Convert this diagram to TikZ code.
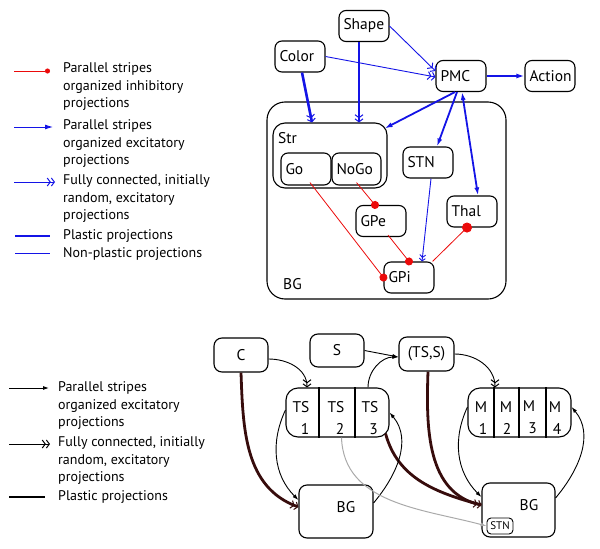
\documentclass[tikz,border=0pt]{standalone}
\usepackage{fontspec}
\setmainfont{PT Sans}
\usetikzlibrary{arrows.meta}
\definecolor{myblue}{RGB}{20,20,230}
\definecolor{myred}{RGB}{235,10,10}
\definecolor{mybrown}{RGB}{55,12,12}
\definecolor{mygray}{RGB}{170,170,170}
\begin{document}
\begin{tikzpicture}[x=1pt,y=-1pt,
  box/.style={draw, line width=1.1pt, rounded corners=7pt, minimum width=50pt, minimum height=31pt,
    text width=41pt, inner xsep=4.5pt, inner ysep=0pt, align=left, font=\fontsize{15.5}{18}\selectfont},
  bbox/.style={draw, line width=1.1pt, rounded corners=8pt, inner sep=0pt, font=\fontsize{15.5}{18}\selectfont},
  cell/.style={align=center, inner sep=0pt, font=\fontsize{15.5}{22}\selectfont},
  lbl/.style={inner sep=0pt, anchor=west, font=\fontsize{15.5}{18}\selectfont},
  legtxt/.style={inner sep=0pt, anchor=west, align=left, font=\fontsize{14}{17.5}\selectfont},
  bthick/.style={myblue, line width=2.6pt},
  bthin/.style={myblue, line width=0.9pt},
  inh/.style={myred, line width=0.8pt, -{Circle[length=8pt]}, shorten >=-4pt},
  sarr/.style={-{Latex[length=8pt,width=5pt]}},
  darr/.style={-{Straight Barb[length=3pt,width=8pt,line width=1pt]Straight Barb[length=3pt,width=8pt,line width=1pt]}},
  kthin/.style={black, line width=0.9pt},
  kthick/.style={mybrown, line width=2.8pt},
  karr/.style={-{Latex[length=6pt,width=4pt]}},
]
\useasboundingbox (0,0) rectangle (600,549);

% ---------- top legend ----------
\coordinate (la1) at (14,71);  \coordinate (lb1) at (50,71);
\draw[myred, line width=0.9pt, -{Circle[length=5pt]}] (la1) -- (lb1);
\node[legtxt] (lt1) at (63,87) {Parallel stripes\\organized inhibitory\\projections};
\coordinate (la2) at (14,127); \coordinate (lb2) at (53,127);
\draw[bthin, sarr] (la2) -- (lb2);
\node[legtxt] (lt2) at (63,144) {Parallel stripes\\organized excitatory\\projections};
\coordinate (la3) at (14,182); \coordinate (lb3) at (55,182);
\draw[bthin, darr] (la3) -- (lb3);
\node[legtxt] (lt3) at (63,199) {Fully connected, initially\\random, excitatory\\projections};
\coordinate (la4) at (15,236); \coordinate (lb4) at (50,236);
\draw[bthick] (la4) -- (lb4);
\node[legtxt] (lt4) at (63,236) {Plastic projections};
\coordinate (la5) at (15,253); \coordinate (lb5) at (50,253);
\draw[bthin] (la5) -- (lb5);
\node[legtxt] (lt5) at (63,254) {Non-plastic projections};

% ---------- top diagram ----------
\node[draw, line width=1.1pt, rounded corners=18pt, minimum width=239pt, minimum height=197pt, inner sep=0pt] (bg) at (386.5,200.5) {};
\node[lbl] (bglbl) at (283,284) {BG};
\node[draw, line width=1.1pt, rounded corners=12pt, minimum width=114pt, minimum height=65pt, inner sep=0pt] (str) at (330,155.5) {};
\node[lbl] (strlbl) at (278,138) {Str};
\node[box] (shape) at (364,26) {Shape};
\node[box] (color) at (300,56.5) {Color};
\node[box] (pmc) at (461,76) {PMC};
\node[box] (action) at (550,76) {Action};
\node[box, minimum height=32pt] (go) at (306,169) {Go};
\node[box, minimum width=49pt, text width=40pt, minimum height=32pt] (nogo) at (356.5,169) {NoGo};
\node[box] (stn) at (428,162.5) {STN};
\node[box] (thal) at (472,211.5) {Thal};
\node[box] (gpe) at (381,221) {GPe};
\node[box] (gpi) at (409,277.5) {GPi};

\draw[bthick, darr] ([xshift=2pt]color.south) -- ([xshift=-18pt]str.north);
\draw[bthick, darr] ([xshift=-5pt]shape.south) -- ([xshift=29pt]str.north);
\draw[bthin, darr] (shape.east) -- ([yshift=5pt]pmc.west);
\draw[bthin, darr] (color.east) -- ([yshift=-1pt]pmc.west);
\draw[bthick, line width=1.8pt, sarr] (pmc.east) -- (action.west);
\draw[bthick, line width=1.8pt, sarr] ([xshift=-6pt]pmc.south) -- ([xshift=-3pt,yshift=-6pt]str.north east);
\draw[bthick, line width=1.8pt, sarr] ([xshift=-4pt]pmc.south) -- ([xshift=9pt]stn.north);
\draw[bthick, line width=1.8pt, {Latex[length=8pt,width=5pt]}-{Latex[length=8pt,width=5pt]}] ([xshift=1pt]pmc.south) -- ([xshift=6pt]thal.north);
\draw[bthin, -{Straight Barb[length=2.5pt,width=6pt,line width=0.9pt]Straight Barb[length=2.5pt,width=6pt,line width=0.9pt]}] ([xshift=3pt]stn.south) -- ([xshift=13pt]gpi.north);
\draw[inh] ([xshift=4pt,yshift=3pt]go.south) -- (gpi.west);
\draw[inh] ([yshift=3pt]nogo.south) -- ([xshift=-6pt]gpe.north);
\draw[inh] ([xshift=7pt,yshift=2pt]gpe.south) -- (gpi.north);
\draw[inh, -{Circle[length=10pt]}, shorten >=-5pt] ([xshift=-2pt]gpi.north east) -- ([xshift=-5pt]thal.south);

% ---------- bottom legend ----------
\coordinate (ma1) at (9,388); \coordinate (mb1) at (49,388);
\draw[kthin, karr] (ma1) -- (mb1);
\node[legtxt] (mt1) at (58,406) {Parallel stripes\\organized excitatory\\projections};
\coordinate (ma2) at (9,444); \coordinate (mb2) at (50,444);
\draw[kthin, darr] (ma2) -- (mb2);
\node[legtxt] (mt2) at (58,461) {Fully connected, initially\\random, excitatory\\projections};
\coordinate (ma3) at (9,497); \coordinate (mb3) at (45,497);
\draw[black, line width=2.8pt] (ma3) -- (mb3);
\node[legtxt] (mt3) at (58,497) {Plastic projections};

% ---------- bottom diagram ----------
\node[bbox, minimum width=54pt, minimum height=34pt] (c) at (241,355) {C};
\node[bbox, minimum width=54pt, minimum height=33pt] (s) at (337,350.5) {S};
\node[bbox, minimum width=55pt, minimum height=34pt] (tss) at (426.5,354) {(TS,S)};
\node[draw, line width=1.1pt, rounded corners=12pt, minimum width=103pt, minimum height=49pt, inner sep=0pt] (ts) at (337.5,412.5) {};
\draw[line width=1.1pt] ([xshift=-18.5pt]ts.north) -- ([xshift=-18.5pt]ts.south);
\draw[line width=1.1pt] ([xshift=17.5pt]ts.north) -- ([xshift=17.5pt]ts.south);
\node[cell] (ts1) at (301,418) {TS\\\hspace*{8pt}1};
\node[cell] (ts2) at (336,418) {TS\\\hspace*{8pt}2};
\node[cell] (ts3) at (370,418) {TS\\\hspace*{7pt}3};
\node[draw, line width=1.1pt, rounded corners=12pt, minimum width=103pt, minimum height=49pt, inner sep=0pt] (m) at (519.5,412.5) {};
\draw[line width=1.1pt] ([xshift=-25.5pt]m.north) -- ([xshift=-25.5pt]m.south);
\draw[line width=1.1pt] ([xshift=-0.5pt]m.north) -- ([xshift=-0.5pt]m.south);
\draw[line width=1.1pt] ([xshift=26.5pt]m.north) -- ([xshift=26.5pt]m.south);
\node[cell] (m1) at (481,418) {M\\\hspace*{4pt}1};
\node[cell] (m2) at (506,418) {M\\\hspace*{2pt}2};
\node[cell] (m3) at (529,417) {M\\\hspace*{7pt}3};
\node[cell] (m4) at (555,418) {M\\\hspace*{4pt}4};
\node[bbox, minimum width=74pt, minimum height=53pt] (bgl) at (336,511.5) {};
\node[inner sep=0pt, font=\fontsize{15.5}{18}\selectfont] (bgllbl) at (346,507) {BG};
\node[bbox, minimum width=73pt, minimum height=54pt] (bgr) at (518.5,510) {};
\node[inner sep=0pt, font=\fontsize{15.5}{18}\selectfont] (bgrlbl) at (529,505) {BG};
\node[draw, line width=0.9pt, rounded corners=4pt, minimum width=26pt, minimum height=16pt, inner sep=0pt, font=\fontsize{11}{13}\selectfont] (stn2) at (500,526) {STN};

\draw[kthin, darr] ([yshift=-4pt]c.east) to[out=0,in=90] ([xshift=-30.5pt]ts.north);
\draw[kthick, -{Straight Barb[length=3pt,width=8pt,line width=1pt]Straight Barb[length=3pt,width=8pt,line width=1pt]}] (c.south) to[out=-88,in=160] ([yshift=4.5pt]bgl.west);
\draw[kthin, karr] (s.east) -- ([yshift=-3pt]tss.west);
\draw[kthin, karr] ([xshift=30.5pt]ts.north) to[out=90,in=180] ([yshift=-3pt]tss.west);
\draw[kthin, darr] (tss.east) to[out=0,in=90] ([xshift=-24.5pt]m.north);
\draw[kthick, -{Straight Barb[length=3pt,width=8pt,line width=1pt]Straight Barb[length=3pt,width=8pt,line width=1pt]}] ([xshift=1.5pt]tss.south) to[out=-92,in=168] ([yshift=5pt]bgr.west);
\draw[kthick] ([xshift=-4pt,yshift=4pt]ts.south east) to[out=-75,in=165] ([yshift=5pt]bgr.west);
\draw[kthin, karr] ([yshift=2.5pt]ts.west) to[out=-115,in=135] ([yshift=11.5pt]bgl.west);
\draw[kthin, karr] ([yshift=8.5pt]bgl.east) to[out=50,in=-50] (ts.east);
\draw[kthin, karr] ([yshift=5.5pt]m.west) to[out=-115,in=135] ([yshift=13pt]bgr.west);
\draw[kthin, karr] ([yshift=12pt]bgr.east) to[out=50,in=-50] ([yshift=5.5pt]m.east);
\draw[mygray, line width=1pt, karr] ([xshift=4pt]ts.south) to[out=-88,in=165] (stn2.west);
\end{tikzpicture}
\end{document}
